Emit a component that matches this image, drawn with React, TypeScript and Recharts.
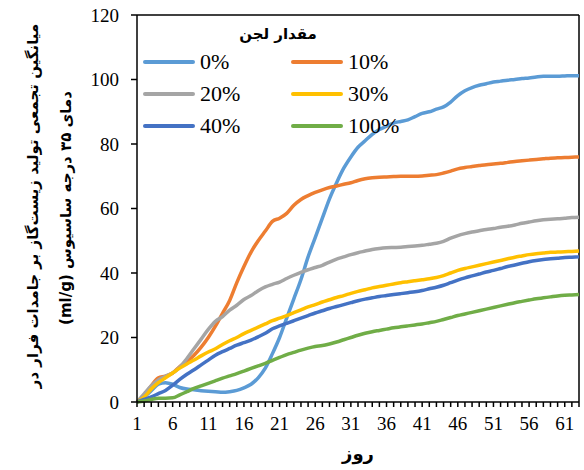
import { Legend, Line, LineChart, ReferenceLine, XAxis, YAxis } from 'recharts';

const days = Array.from({ length: 63 }, (_, i) => i + 1);

const sludge0 = [
  0, 1.5, 3.5, 5.5, 6, 5.5, 4.5, 4, 3.8, 3.5, 3.3, 3.2, 3, 3.2, 3.6, 4.4, 5.5, 7.5, 10.5, 15,
  20, 26, 32, 38, 45, 51, 57, 63, 68, 72.5, 76, 79, 81, 83, 84.5, 85.5, 86.5, 87, 87.5, 88.5,
  89.5, 90, 90.8, 91.5, 93, 95, 96.5, 97.5, 98.2, 98.7, 99.2, 99.5, 99.8, 100, 100.3, 100.5, 100.8, 101, 101, 101,
  101.1, 101.2, 101.2,
];
const sludge10 = [
  0, 2, 5, 7.5, 8, 9, 11, 12.5, 14.5, 17, 20, 23.5, 27.5, 31.5, 37, 42, 46.5, 50, 53, 56,
  57, 58.5, 61, 62.8, 64, 65, 65.8, 66.5, 67, 67.5, 68, 68.7, 69.2, 69.5, 69.7, 69.8, 69.9, 70, 70, 70,
  70.1, 70.3, 70.5, 71, 71.6, 72.3, 72.7, 73, 73.3, 73.6, 73.8, 74, 74.3, 74.6, 74.8, 75, 75.2, 75.4, 75.6, 75.7,
  75.8, 75.9, 76,
];
const sludge20 = [
  0, 2.5, 5, 6.8, 8, 9, 10.8, 13.5, 16.5, 19.5, 22.5, 25, 26.5, 28.5, 30, 31.8, 33, 34.5, 35.7, 36.5,
  37.2, 38.3, 39.3, 40.2, 41, 41.7, 42.4, 43.4, 44.3, 45, 45.7, 46.3, 46.8, 47.3, 47.6, 47.8, 47.9, 48, 48.2, 48.4,
  48.6, 48.9, 49.2, 49.8, 50.8, 51.6, 52.2, 52.7, 53.1, 53.5, 53.8, 54.2, 54.5, 54.9, 55.4, 55.8, 56.2, 56.5, 56.7, 56.8,
  57, 57.2, 57.3,
];
const sludge30 = [
  0, 1.5, 4, 6, 7.5, 9, 10.5, 11.8, 13, 14.3, 15.5, 16.5, 17.8, 19, 20, 21.2, 22.2, 23.2, 24.2, 25.2,
  26, 26.8, 27.7, 28.6, 29.5, 30.2, 31, 31.7, 32.4, 33, 33.7, 34.3, 34.8, 35.4, 35.8, 36.2, 36.6, 37, 37.3, 37.6,
  37.9, 38.2, 38.6, 39.2, 40, 40.8, 41.4, 41.9, 42.4, 42.9, 43.4, 43.9, 44.4, 44.9, 45.3, 45.7, 46, 46.2, 46.4, 46.5,
  46.6, 46.7, 46.8,
];
const sludge40 = [
  0, 0.8, 1.6, 2.6, 3.6, 5.2, 7, 8.6, 10, 11.5, 13, 14.5, 15.6, 16.6, 17.6, 18.4, 19.2, 20.2, 21.3, 22.7,
  23.6, 24.4, 25.2, 26, 26.8, 27.6, 28.3, 29, 29.6, 30.2, 30.8, 31.4, 31.9, 32.3, 32.7, 33, 33.3, 33.6, 33.9, 34.2,
  34.6, 35.1, 35.6, 36.2, 37, 37.8, 38.5, 39.1, 39.7, 40.3, 40.8, 41.4, 42, 42.5, 43, 43.5, 43.9, 44.2, 44.4, 44.6,
  44.8, 44.9, 45,
];
const sludge100 = [
  0, 0.3, 0.8, 1.2, 1.2, 1.3, 2.2, 3.2, 4.2, 5, 5.8, 6.6, 7.4, 8.1, 8.8, 9.6, 10.4, 11.2, 12, 12.9,
  13.8, 14.7, 15.4, 16.1, 16.7, 17.2, 17.5, 18, 18.6, 19.3, 20, 20.7, 21.3, 21.8, 22.2, 22.6, 23, 23.3, 23.6, 23.9,
  24.2, 24.6, 25, 25.6, 26.2, 26.8, 27.3, 27.8, 28.3, 28.8, 29.3, 29.8, 30.3, 30.8, 31.2, 31.6, 32, 32.3, 32.6, 32.9,
  33.1, 33.2, 33.3,
];

const yTicks = [0, 20, 40, 60, 80, 100, 120];

const series = [
  { key: 's0', name: '0%', color: '#5B9BD5', values: sludge0 },
  { key: 's10', name: '10%', color: '#ED7D31', values: sludge10 },
  { key: 's20', name: '20%', color: '#A5A5A5', values: sludge20 },
  { key: 's30', name: '30%', color: '#FFC000', values: sludge30 },
  { key: 's40', name: '40%', color: '#4472C4', values: sludge40 },
  { key: 's100', name: '100%', color: '#70AD47', values: sludge100 },
];

const data = days.map((day, i) => {
  const row: Record<string, number> = { day };
  series.forEach((s) => {
    row[s.key] = s.values[i];
  });
  return row;
});

const serif = 'Liberation Serif, DejaVu Serif, serif';
const persian = 'DejaVu Sans, sans-serif';

const DayTick = ({ x, y, payload }: any) => {
  if ((payload.value - 1) % 5 !== 0) return <g />;
  return (
    <text x={x} y={y + 21} textAnchor="middle" style={{ fontFamily: serif }} fontSize={19} fill="#000">
      {payload.value}
    </text>
  );
};

const renderLegend = () => (
  <div style={{ fontFamily: serif }}>
    <div
      style={{
        fontFamily: persian,
        fontWeight: 'bold',
        fontSize: 15,
        textAlign: 'center',
        direction: 'rtl',
        marginBottom: 5,
      }}
    >
      مقدار لجن
    </div>
    <div style={{ display: 'grid', gridTemplateColumns: '148px 110px', rowGap: 5 }}>
      {series.map((s) => (
        <div key={s.key} style={{ display: 'flex', alignItems: 'center', height: 27 }}>
          <div style={{ width: 52, height: 4, borderRadius: 2, background: s.color, marginRight: 5 }} />
          <span style={{ fontSize: 22, color: '#000' }}>{s.name}</span>
        </div>
      ))}
    </div>
  </div>
);

const App = () => (
  <div style={{ position: 'absolute', left: 0, top: 0, width: 584, height: 470, background: '#fff' }}>
    <LineChart width={584} height={470} data={data} margin={{ top: 15, right: 5, bottom: 0, left: 0 }}>
      <XAxis
        dataKey="day"
        type="number"
        domain={[1, 63]}
        ticks={days}
        interval={0}
        tick={<DayTick />}
        tickSize={5}
        stroke="#000"
        strokeWidth={1.5}
        height={68}
        label={{
          value: 'روز',
          position: 'insideBottom',
          offset: 10,
          style: { fontFamily: persian, fontWeight: 'bold', fontSize: 18, fill: '#000' },
        }}
      />
      <YAxis
        type="number"
        domain={[0, 120]}
        ticks={yTicks}
        interval={0}
        width={137}
        tickSize={6}
        tickMargin={12}
        stroke="#000"
        strokeWidth={1.5}
        tick={{ fontSize: 19, fill: '#000', style: { fontFamily: serif } }}
      />
      <ReferenceLine y={120} stroke="#000" strokeWidth={1.5} />
      <ReferenceLine x={63} stroke="#000" strokeWidth={1.5} />
      <Legend
        content={renderLegend}
        layout="horizontal"
        verticalAlign="middle"
        align="center"
        wrapperStyle={{ top: 25, left: 143, width: 270 }}
      />
      {series.map((s) => (
        <Line
          key={s.key}
          type="monotone"
          dataKey={s.key}
          name={s.name}
          stroke={s.color}
          strokeWidth={3.5}
          dot={false}
          isAnimationActive={false}
        />
      ))}
      <text
        transform="translate(38, 206) rotate(-90)"
        textAnchor="middle"
        fontFamily={persian}
        fontWeight="bold"
        fontSize={15}
        fill="#000"
        direction="rtl"
      >
        میانگین تجمعی تولید زیست‌گاز بر جامدات فرار در
      </text>
      <text
        transform="translate(71, 208) rotate(-90)"
        textAnchor="middle"
        fontFamily={persian}
        fontWeight="bold"
        fontSize={15}
        fill="#000"
        direction="rtl"
      >
        دمای ۳۵ درجه ساسیوس (ml/g)
      </text>
    </LineChart>
  </div>
);

export default App;
